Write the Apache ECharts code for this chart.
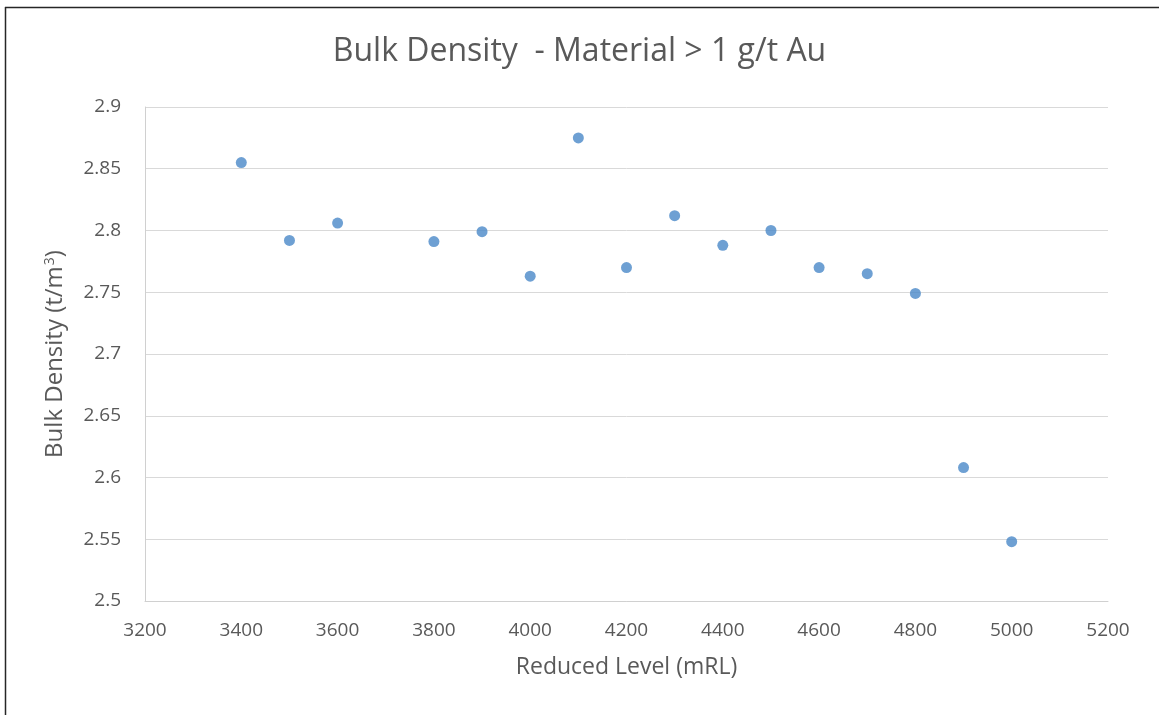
<!DOCTYPE html>
<html>
<head>
<meta charset="utf-8">
<script src="https://cdn.jsdelivr.net/npm/echarts@6/dist/echarts.min.js"></script>
<style>
html,body{margin:0;padding:0;background:#fff;}
#chart{width:1159px;height:715px;}
</style>
</head>
<body>
<div id="chart"></div>
<script>
const levels = [3400, 3500, 3600, 3800, 3900, 4000, 4100, 4200, 4300, 4400, 4500, 4600, 4700, 4800, 4900, 5000];
const density = [2.855, 2.792, 2.806, 2.791, 2.799, 2.763, 2.875, 2.770, 2.812, 2.788, 2.800, 2.770, 2.765, 2.749, 2.608, 2.548];
const titleText = 'Bulk Density  - Material > 1 g/t Au';
const xName = 'Reduced Level (mRL)';

const chart = echarts.init(document.getElementById('chart'));
const font = '"Open Sans", "Noto Sans", sans-serif';
const grey = '#595959';
chart.setOption({
  animation: false,
  backgroundColor: '#fff',
  title: {
    text: titleText,
    left: 'center',
    top: 31,
    textStyle: { fontFamily: font, fontSize: 32, fontWeight: 'normal', color: grey }
  },
  grid: { left: 145, right: 51, top: 107, bottom: 114 },
  xAxis: {
    type: 'value',
    min: 3200, max: 5200, interval: 200,
    name: xName,
    nameLocation: 'middle',
    nameGap: 55,
    nameTextStyle: { fontFamily: font, fontSize: 23, color: grey },
    axisLine: { show: true, lineStyle: { color: '#d0d0d0', width: 1 } },
    axisTick: { show: false },
    axisLabel: { fontFamily: font, fontSize: 19, color: grey, margin: 20, formatter: v => String(v) },
    splitLine: { show: false }
  },
  yAxis: {
    type: 'value',
    min: 2.5, max: 2.9, interval: 0.05,
    name: 'Bulk Density (t/m{sup|3})',
    nameLocation: 'middle',
    nameGap: 78,
    nameTextStyle: {
      fontFamily: font, fontSize: 24, color: grey,
      rich: { sup: { fontFamily: font, fontSize: 14, color: grey, verticalAlign: 'top', padding: [0, 0, 10, 1] } }
    },
    axisLine: { show: true, lineStyle: { color: '#d0d0d0', width: 1 } },
    axisTick: { show: false },
    axisLabel: { fontFamily: font, fontSize: 19, color: grey, margin: 24, formatter: v => String(+v.toFixed(2)) },
    splitLine: { show: true, lineStyle: { color: '#d9d9d9', width: 1 } }
  },
  series: [{
    type: 'scatter',
    symbol: 'circle',
    symbolSize: 11,
    itemStyle: { color: '#4a88c8' },
    data: levels.map((x, i) => [x, density[i]])
  }],
  graphic: [
    { type: 'line', shape: { x1: 5, y1: 7.5, x2: 1159, y2: 7.5 }, style: { stroke: '#262626', lineWidth: 1.5 } },
    { type: 'line', shape: { x1: 5.5, y1: 7, x2: 5.5, y2: 715 }, style: { stroke: '#262626', lineWidth: 1.5 } }
  ]
});
</script>
</body>
</html>
